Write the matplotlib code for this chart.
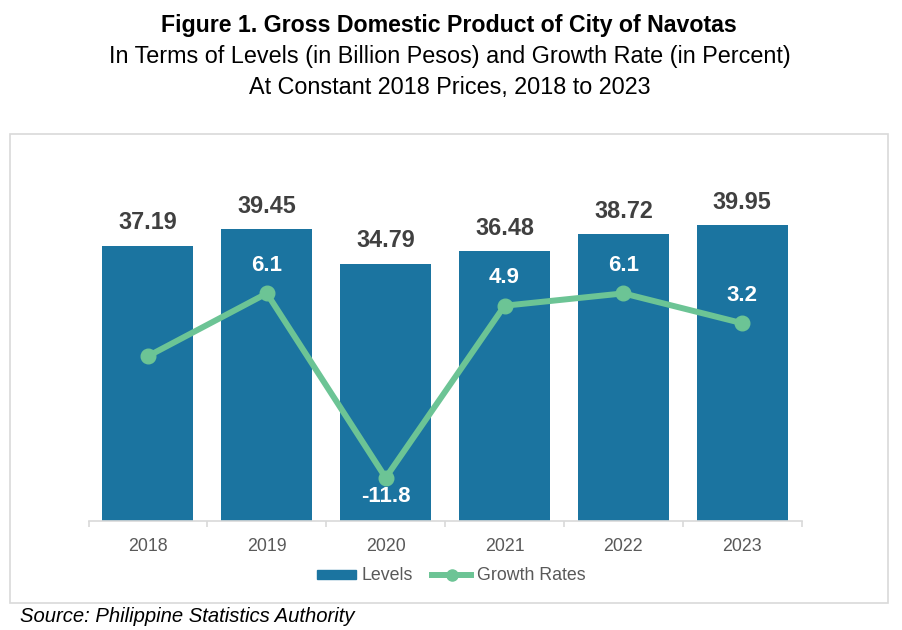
import matplotlib
matplotlib.use("Agg")
import matplotlib.pyplot as plt
import matplotlib.patches as mpatches
from matplotlib.lines import Line2D

plt.rcParams['font.family'] = ['Liberation Sans', 'DejaVu Sans']

years = ["2018", "2019", "2020", "2021", "2022", "2023"]
levels = [37.19, 39.45, 34.79, 36.48, 38.72, 39.95]
growth = [0.0, 6.1, -11.8, 4.9, 6.1, 3.2]
growth_labels = [None, "6.1", "-11.8", "4.9", "6.1", "3.2"]

bar_color = "#1B74A0"
line_color = "#6CC495"
label_color = "#404040"
tick_color = "#595959"
grid_color = "#D9D9D9"

W, H = 902, 630
fig = plt.figure(figsize=(W / 100, H / 100), dpi=100)

# outer border
fig.patches.append(mpatches.Rectangle((10 / W, 1 - 603 / H), 878 / W, 469 / H,
                                      transform=fig.transFigure, fill=False,
                                      edgecolor=grid_color, linewidth=1.2))

ax = fig.add_axes([88.5 / W, 1 - 521 / H, 713.2 / W, 333 / H])
x = list(range(len(years)))
bars = ax.bar(x, levels, width=0.765, color=bar_color, zorder=2)
ax.set_xlim(-0.5, len(years) - 0.5)
ax.set_ylim(0, 45)
ax.set_yticks([])
for s in ["top", "left", "right"]:
    ax.spines[s].set_visible(False)
ax.spines["bottom"].set_color(grid_color)
ax.spines["bottom"].set_linewidth(1.2)
ax.set_xticks(x)
ax.set_xticklabels(years, fontsize=12.8, color=tick_color)
ax.tick_params(axis="x", which="major", length=0, pad=12)
ax.set_xticks([i - 0.5 for i in range(len(years) + 1)], minor=True)
ax.tick_params(axis="x", which="minor", length=4.5, color=grid_color, width=1.2)

for xi, v in zip(x, levels):
    ax.annotate(f"{v:.2f}", (xi, v), xytext=(0, 16.5), textcoords="offset points",
                ha="center", va="center", fontsize=16.8, fontweight="bold",
                color=label_color)

ax2 = ax.twinx()
ax2.set_ylim(-16.0, 16.33)
ax2.axis("off")
ax2.plot(x, growth, color=line_color, linewidth=4.3, marker="o", markersize=10.5,
         zorder=3, solid_capstyle="round")
for xi, v, lab in zip(x, growth, growth_labels):
    if lab is None:
        continue
    off = -13.7 if v < 0 else 20
    ax2.annotate(lab, (xi, v), xytext=(0, off), textcoords="offset points",
                 ha="center", va="center", fontsize=16, fontweight="bold",
                 color="white")

handles = [mpatches.Patch(color=bar_color, label="Levels"),
           Line2D([0], [0], color=line_color, linewidth=4.3, marker="o",
                  markersize=8, label="Growth Rates")]
fig.legend(handles=handles, loc="center", bbox_to_anchor=(451 / W, 1 - 576 / H),
           ncol=2, frameon=False, fontsize=12.8, handlelength=2.2,
           handleheight=0.4, handletextpad=0.3, columnspacing=1.1,
           labelcolor=tick_color)

fig.text(449 / W, 1 - 32 / H, "Figure 1. Gross Domestic Product of City of Navotas",
         ha="center", va="baseline", fontsize=16.7, fontweight="bold", color="black")
fig.text(450 / W, 1 - 63 / H,
         "In Terms of Levels (in Billion Pesos) and Growth Rate (in Percent)",
         ha="center", va="baseline", fontsize=16.8, color="black")
fig.text(450 / W, 1 - 94 / H, "At Constant 2018 Prices, 2018 to 2023",
         ha="center", va="baseline", fontsize=16.8, color="black")
fig.text(20 / W, 1 - 622 / H, "Source: Philippine Statistics Authority",
         ha="left", va="baseline", fontsize=14.6, style="italic", color="black")

fig.savefig("out.png", dpi=100)
